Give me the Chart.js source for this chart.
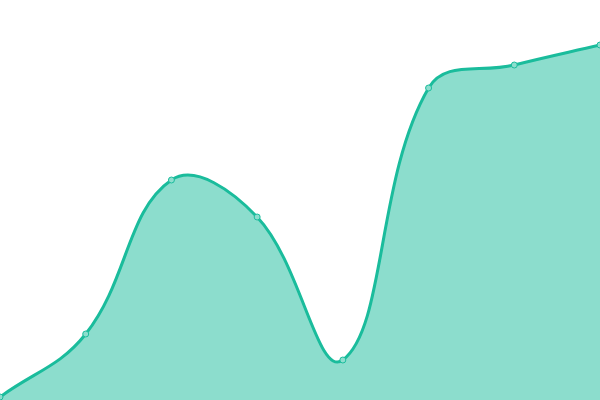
<!DOCTYPE html>
<html>
<head>
<meta charset="utf-8">
<script src="https://cdn.jsdelivr.net/npm/chart.js@4"></script>
<style>
  html, body { margin: 0; padding: 0; background: #fff; }
  #wrap { width: 600px; height: 400px; }
</style>
</head>
<body>
<div id="wrap"><canvas id="areaChart"></canvas></div>
<script>
const labels = ['1', '2', '3', '4', '5', '6', '7', '8'];
const values = [3, 66, 220, 183, 40, 312, 335, 355];

new Chart(document.getElementById('areaChart'), {
  type: 'line',
  data: {
    labels: labels,
    datasets: [{
      data: values,
      borderColor: '#1abc9c',
      backgroundColor: 'rgba(26, 188, 156, 0.5)',
      borderWidth: 3,
      pointRadius: 3,
      pointBorderWidth: 1,
      pointBackgroundColor: '#8ddece',
      pointBorderColor: '#1abc9c',
      fill: true,
      tension: 0.4
    }]
  },
  options: {
    responsive: true,
    maintainAspectRatio: false,
    animation: false,
    layout: { padding: 0, autoPadding: false },
    plugins: {
      legend: { display: false },
      tooltip: { enabled: false }
    },
    scales: {
      x: { display: false, offset: false },
      y: { display: false, min: 0, max: 400 }
    }
  }
});
</script>
</body>
</html>
